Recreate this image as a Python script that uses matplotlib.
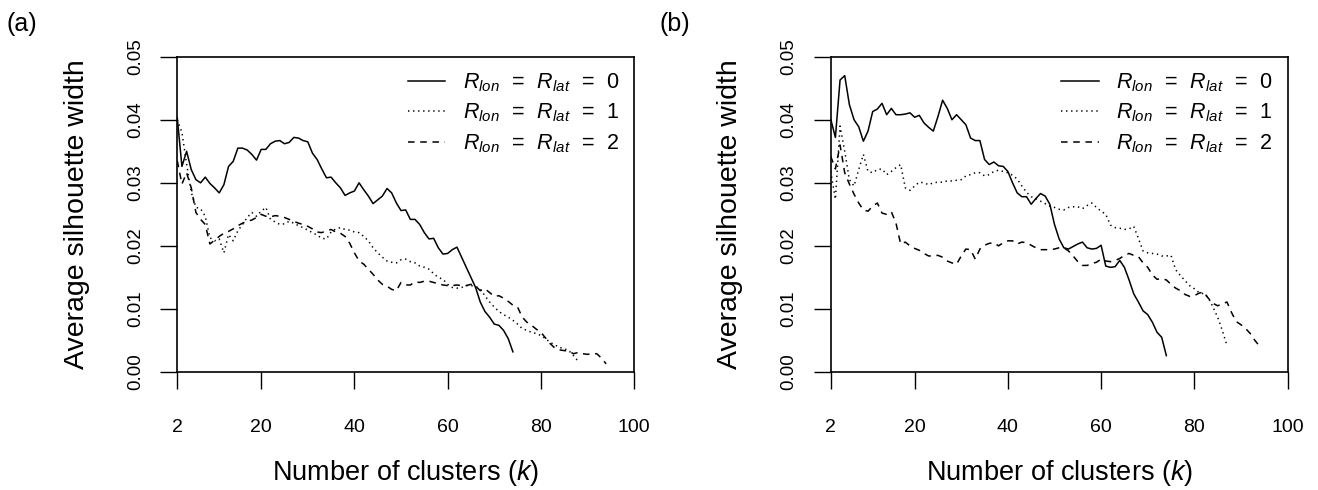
import numpy as np
import matplotlib
matplotlib.use('Agg')
import matplotlib.pyplot as plt
from matplotlib.lines import Line2D

plt.rcParams['font.family'] = ['Liberation Sans', 'DejaVu Sans']
plt.rcParams['mathtext.fontset'] = 'custom'
plt.rcParams['mathtext.rm'] = 'Liberation Sans'
plt.rcParams['mathtext.it'] = 'Liberation Sans:italic'
plt.rcParams['mathtext.bf'] = 'Liberation Sans:bold'

# number of clusters
k_r0 = np.arange(2, 75)
k_a_r1 = np.arange(2, 89)
k_b_r1 = np.arange(2, 88)
k_r2 = np.arange(2, 95)

# (a) average silhouette width
a_r0 = [0.0403, 0.0326, 0.0350, 0.0321, 0.0305, 0.0300, 0.0309, 0.0299, 0.0292, 0.0284,
        0.0297, 0.0326, 0.0334, 0.0355, 0.0355, 0.0352, 0.0345, 0.0336, 0.0353, 0.0353,
        0.0362, 0.0366, 0.0367, 0.0362, 0.0364, 0.0372, 0.0371, 0.0367, 0.0365, 0.0347,
        0.0337, 0.0322, 0.0308, 0.0309, 0.0300, 0.0292, 0.0280, 0.0284, 0.0287, 0.0300,
        0.0289, 0.0279, 0.0267, 0.0273, 0.0279, 0.0291, 0.0284, 0.0268, 0.0256, 0.0257,
        0.0242, 0.0242, 0.0234, 0.0221, 0.0211, 0.0212, 0.0197, 0.0187, 0.0188, 0.0194,
        0.0198, 0.0182, 0.0166, 0.0150, 0.0134, 0.0111, 0.0096, 0.0087, 0.0076, 0.0074,
        0.0066, 0.0053, 0.0032]
a_r1 = [0.0400, 0.0380, 0.0330, 0.0285, 0.0261, 0.0259, 0.0247, 0.0213, 0.0208, 0.0211,
        0.0189, 0.0218, 0.0208, 0.0224, 0.0234, 0.0245, 0.0253, 0.0247, 0.0255, 0.0261,
        0.0242, 0.0238, 0.0234, 0.0235, 0.0239, 0.0236, 0.0232, 0.0229, 0.0225, 0.0221,
        0.0217, 0.0212, 0.0211, 0.0222, 0.0227, 0.0229, 0.0226, 0.0225, 0.0222, 0.0221,
        0.0215, 0.0208, 0.0197, 0.0189, 0.0182, 0.0176, 0.0174, 0.0173, 0.0178, 0.0179,
        0.0175, 0.0173, 0.0168, 0.0166, 0.0163, 0.0156, 0.0150, 0.0147, 0.0139, 0.0134,
        0.0133, 0.0134, 0.0137, 0.0137, 0.0136, 0.0131, 0.0121, 0.0111, 0.0103, 0.0096,
        0.0091, 0.0087, 0.0082, 0.0076, 0.0069, 0.0066, 0.0063, 0.0061, 0.0058, 0.0053,
        0.0047, 0.0043, 0.0039, 0.0037, 0.0034, 0.0026, 0.0017]
a_r2 = [0.0335, 0.0298, 0.0316, 0.0292, 0.0253, 0.0242, 0.0234, 0.0203, 0.0209, 0.0215,
        0.0220, 0.0223, 0.0227, 0.0232, 0.0236, 0.0239, 0.0241, 0.0245, 0.0250, 0.0247,
        0.0246, 0.0248, 0.0247, 0.0245, 0.0242, 0.0239, 0.0236, 0.0234, 0.0231, 0.0227,
        0.0222, 0.0221, 0.0224, 0.0226, 0.0222, 0.0220, 0.0215, 0.0204, 0.0189, 0.0176,
        0.0171, 0.0163, 0.0155, 0.0146, 0.0139, 0.0136, 0.0131, 0.0129, 0.0142, 0.0138,
        0.0138, 0.0143, 0.0142, 0.0144, 0.0144, 0.0142, 0.0140, 0.0138, 0.0137, 0.0137,
        0.0138, 0.0137, 0.0137, 0.0139, 0.0136, 0.0129, 0.0132, 0.0126, 0.0120, 0.0121,
        0.0117, 0.0112, 0.0106, 0.0103, 0.0087, 0.0079, 0.0074, 0.0068, 0.0063, 0.0054,
        0.0045, 0.0038, 0.0035, 0.0034, 0.0033, 0.0029, 0.0031, 0.0029, 0.0028, 0.0029,
        0.0029, 0.0022, 0.0013]

# (b) average silhouette width
b_r0 = [0.0401, 0.0372, 0.0463, 0.0470, 0.0424, 0.0400, 0.0389, 0.0366, 0.0382, 0.0413,
        0.0417, 0.0426, 0.0408, 0.0418, 0.0408, 0.0408, 0.0409, 0.0411, 0.0404, 0.0407,
        0.0395, 0.0388, 0.0382, 0.0405, 0.0431, 0.0418, 0.0400, 0.0408, 0.0400, 0.0392,
        0.0371, 0.0367, 0.0367, 0.0337, 0.0329, 0.0333, 0.0327, 0.0326, 0.0318, 0.0300,
        0.0284, 0.0278, 0.0278, 0.0266, 0.0275, 0.0283, 0.0279, 0.0266, 0.0234, 0.0211,
        0.0197, 0.0195, 0.0199, 0.0203, 0.0206, 0.0197, 0.0195, 0.0196, 0.0201, 0.0168,
        0.0166, 0.0167, 0.0177, 0.0166, 0.0146, 0.0124, 0.0111, 0.0097, 0.0091, 0.0079,
        0.0063, 0.0055, 0.0026]
b_r1 = [0.0318, 0.0274, 0.0390, 0.0350, 0.0305, 0.0295, 0.0321, 0.0345, 0.0318, 0.0316,
        0.0321, 0.0322, 0.0313, 0.0318, 0.0324, 0.0329, 0.0292, 0.0288, 0.0295, 0.0301,
        0.0300, 0.0297, 0.0300, 0.0301, 0.0301, 0.0303, 0.0303, 0.0304, 0.0305, 0.0311,
        0.0313, 0.0316, 0.0316, 0.0311, 0.0313, 0.0318, 0.0320, 0.0318, 0.0316, 0.0312,
        0.0306, 0.0295, 0.0285, 0.0278, 0.0275, 0.0271, 0.0267, 0.0263, 0.0261, 0.0258,
        0.0257, 0.0261, 0.0262, 0.0262, 0.0259, 0.0264, 0.0268, 0.0261, 0.0255, 0.0250,
        0.0233, 0.0229, 0.0228, 0.0226, 0.0227, 0.0231, 0.0212, 0.0192, 0.0189, 0.0188,
        0.0187, 0.0184, 0.0184, 0.0185, 0.0162, 0.0153, 0.0145, 0.0137, 0.0132, 0.0126,
        0.0124, 0.0118, 0.0103, 0.0087, 0.0066, 0.0042]
b_r2 = [0.0342, 0.0322, 0.0360, 0.0316, 0.0298, 0.0282, 0.0268, 0.0257, 0.0255, 0.0263,
        0.0268, 0.0252, 0.0250, 0.0254, 0.0236, 0.0203, 0.0206, 0.0200, 0.0196, 0.0193,
        0.0188, 0.0184, 0.0184, 0.0185, 0.0182, 0.0176, 0.0173, 0.0171, 0.0184, 0.0195,
        0.0194, 0.0179, 0.0195, 0.0201, 0.0204, 0.0205, 0.0200, 0.0205, 0.0208, 0.0208,
        0.0203, 0.0206, 0.0205, 0.0201, 0.0197, 0.0194, 0.0194, 0.0194, 0.0195, 0.0197,
        0.0197, 0.0192, 0.0184, 0.0175, 0.0169, 0.0169, 0.0172, 0.0174, 0.0179, 0.0176,
        0.0175, 0.0177, 0.0180, 0.0185, 0.0188, 0.0185, 0.0183, 0.0173, 0.0166, 0.0154,
        0.0147, 0.0148, 0.0146, 0.0139, 0.0133, 0.0129, 0.0123, 0.0120, 0.0121, 0.0125,
        0.0127, 0.0117, 0.0109, 0.0105, 0.0108, 0.0111, 0.0094, 0.0080, 0.0075, 0.0069,
        0.0061, 0.0050, 0.0041]

x_ticks = [2, 20, 40, 60, 80, 100]
y_ticks = [0.00, 0.01, 0.02, 0.03, 0.04, 0.05]
labels = [r'$R_{lon}\ \,=\ \,R_{lat}\ \,=\ \,0$',
          r'$R_{lon}\ \,=\ \,R_{lat}\ \,=\ \,1$',
          r'$R_{lon}\ \,=\ \,R_{lat}\ \,=\ \,2$']

LW = 1.1
DOT = (0.9, 2.4)
DASH = (4.3, 3.7)


def draw_panel(ax, r0, k1, r1, r2, tag):
    ax.plot(k_r0, r0, color='black', lw=LW)
    ax.plot(k1, r1, color='black', lw=LW, dashes=DOT)
    ax.plot(k_r2, r2, color='black', lw=LW, dashes=DASH)
    ax.set_xlim(2, 100)
    ax.set_ylim(0, 0.05)
    ax.set_xticks(x_ticks)
    ax.set_yticks(y_ticks)
    ax.set_yticklabels([f'{v:.2f}' for v in y_ticks], rotation=90, va='center')
    ax.tick_params(axis='both', direction='out', length=12, width=1.0)
    ax.tick_params(axis='x', pad=22, labelsize=14)
    ax.tick_params(axis='y', pad=12, labelsize=13.5)
    for s in ax.spines.values():
        s.set_linewidth(1.2)
    ax.set_xlabel('Number of clusters ($k$)', fontsize=19.5, labelpad=16)
    ax.set_ylabel('Average silhouette width', fontsize=20.5)
    ax.yaxis.set_label_coords(-0.192, 0.5)
    handles = [Line2D([], [], color='black', lw=LW),
               Line2D([], [], color='black', lw=LW, dashes=DOT),
               Line2D([], [], color='black', lw=LW, dashes=DASH)]
    ax.legend(handles, labels, loc='upper right', bbox_to_anchor=(1.006, 1.009),
              frameon=False, fontsize=15.5, handlelength=1.75, handletextpad=0.82,
              labelspacing=0.37, borderaxespad=0.4)
    ax.figure.text(ax.get_position().x0 - 0.1296, 0.951, tag, fontsize=18, va='center', ha='left')


fig = plt.figure(figsize=(13.18, 4.9), dpi=100)
ax_a = fig.add_axes([0.1345, 0.2408, 0.3466, 0.6435])
ax_b = fig.add_axes([0.6303, 0.2408, 0.3466, 0.6435])

draw_panel(ax_a, a_r0, k_a_r1, a_r1, a_r2, '(a)')
draw_panel(ax_b, b_r0, k_b_r1, b_r1, b_r2, '(b)')

fig.savefig('out.png', dpi=100)
